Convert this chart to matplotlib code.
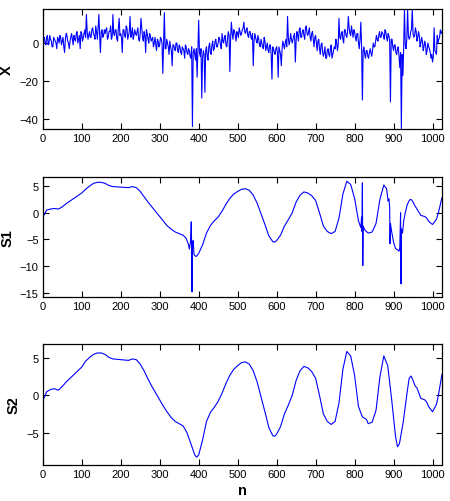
import matplotlib
matplotlib.use("Agg")
from matplotlib import pyplot as plt
import numpy as np

plt.rcParams['font.family'] = ['Liberation Sans', 'DejaVu Sans']

# X: noisy input, samples at n = 0, 4, ..., 1024
x_values = [
    -11, 3, -1, 4, 0, 2, -2, 3, 1, -3,
    2, 4, -1, 3, -5, 5, 1, -3, 3, 2,
    4, 1, 6, 2, -3, 5, 3, 7, 15, 2,
    6, 3, 8, 4, 9, 2, 15, -5, 7, 4,
    5, 8, 3, 6, 2, 15, 4, 7, 1, 13,
    5, -5, 7, 3, 8, 4, 14, 5, 2, 7,
    4, 8, 1, 13, 3, 6, -5, 5, 0, 4,
    2, -2, 3, -4, 1, -1, 2, -16, 16, -3,
    0, -6, -2, -12, -1, -4, 0, -5, -2, -6,
    -3, -8, -2, -6, -4, -8, -44, -3, -9, -18,
    12, -7, -29, -4, -26, -2, -9, 0, -6, 1,
    -3, 2, -2, 3, -1, 5, 0, 4, -2, 6,
    -15, 11, 2, 6, 1, 5, 8, 4, 7, 11,
    5, 8, 3, 6, 2, -12, 5, 1, 4, -1,
    2, -2, 3, -4, 0, -5, -1, -19, -3, -6,
    -2, -18, -4, -12, 1, -3, 2, 14, -1, 5,
    0, 4, -10, 6, 1, 8, 3, 7, 2, 9,
    4, 8, 1, 6, -2, 4, -4, 2, -6, 0,
    -7, -2, -8, -3, -7, -1, -6, -2, 2, -4,
    13, 2, 6, 0, 7, 3, 14, 5, 9, 3,
    6, 1, 5, -3, 11, -30, -2, -8, -4, -8,
    -3, -7, 0, -2, 4, 1, 6, 3, 5, 2,
    6, 1, 4, -31, 2, -4, -1, -6, -2, -13,
    -45, -17, 18, -3, 18, 2, 6, 18, 3, 8,
    1, 6, -2, 3, -4, 1, -6, 0, -3, -8,
    -10, 8, -5, 4, 2, 7, 6,
]
# X: samples in between, at n = 2, 6, ..., 1022
x_mid_values = [
    2, 0, 3, -1, 4, 1, -2, 2, 0, 3,
    0, 3, 1, -2, 2, 4, 0, 1, 5, -1,
    2, 5, 0, 4, 6, 1, 5, 3, 6, 4,
    3, 7, 5, 2, 6, 8, 4, 6, 3, 7,
    7, 2, 6, 9, 3, 5, 7, 2, 8, 4,
    3, 7, 4, 9, 2, 6, 3, 8, 4, 5,
    6, 2, 5, 8, 1, 4, 7, 2, 5, 1,
    3, 0, -1, 2, -2, 3, 0, 1, -3, 2,
    -2, 1, -4, -1, -3, 0, -4, -1, -5, -2,
    -4, -1, -5, -3, -7, -2, -5, -6, -3, -4,
    -5, -3, -8, -6, -4, -7, -2, -5, -1, -4,
    1, -2, 0, 2, -3, 1, 3, -1, 2, 4,
    3, 5, 7, 4, 6, 3, 6, 5, 8, 6,
    7, 4, 6, 3, 5, 1, 3, 0, 2, -2,
    0, -3, 1, -2, -4, -1, -6, -2, -5, -3,
    -5, -2, -6, -3, -1, 0, -2, 3, 1, 2,
    2, 5, 1, 4, 7, 3, 6, 4, 8, 5,
    6, 3, 5, 2, 3, 0, 1, -3, -1, -5,
    -5, -8, -4, -6, -3, -8, -4, -3, 0, -1,
    3, 5, 2, 7, 4, 6, 8, 4, 6, 7,
    3, 5, 0, 2, -2, -4, -6, -4, -7, -5,
    -5, -4, -2, 1, 2, 4, 3, 6, 4, 7,
    3, 5, 1, 2, -2, -1, -5, -3, -7, -5,
    -6, -2, -1, 2, 4, 3, 7, 5, 4, 6,
    3, 4, 0, 1, -2, -1, -4, -2, -5, -6,
    -7, -4, -6, 0, 3, 5,
]

# S1: first output, with spikes
s1_n = [0, 5, 10, 20, 30, 40, 50, 60, 80, 100, 110, 120, 130, 140, 150, 160,
        170, 180, 200, 220, 230, 240, 250, 260, 270, 280, 290, 300, 310, 320,
        330, 340, 350, 360, 368, 374, 376, 379, 381, 382, 383, 384, 385, 386,
        388, 393, 396, 400, 410, 420, 430, 440, 450, 460, 470, 480, 490, 500,
        510, 520, 530, 540, 550, 560, 570, 580, 590, 595, 600, 610, 620, 630,
        640, 650, 660, 670, 680, 690, 700, 710, 720, 730, 740, 750, 760, 770,
        780, 790, 800, 810, 816, 818, 819, 820, 821, 822, 826, 835, 845, 855,
        865, 875, 882, 886, 888, 890, 891, 892, 895, 900, 905, 910, 914, 916,
        918, 919, 920, 923, 926, 930, 935, 941, 945, 950, 955, 960, 970, 975,
        980, 985, 990, 1000, 1010, 1015, 1024]
s1_values = [-0.8, -0.2, 0.5, 0.7, 0.8, 0.7, 1.1, 1.7, 2.7, 3.7, 4.4, 5.0, 5.5,
             5.7, 5.7, 5.5, 5.1, 4.9, 4.8, 4.7, 4.9, 4.7, 4.0, 3.0, 2.0, 1.1,
             0.2, -0.7, -1.6, -2.5, -3.1, -3.6, -3.9, -4.2, -4.8, -6.0, -6.8,
             -5.5, -1.7, -6.5, -14.8, -6.0, -5.3, -5.2, -7.8, -8.2, -8.0, -7.6,
             -6.0, -3.8, -2.4, -1.5, -0.8, 0.3, 1.6, 2.7, 3.5, 4.0, 4.4, 4.5,
             4.2, 3.3, 1.8, -0.2, -2.2, -4.3, -5.4, -5.5, -5.2, -4.2, -2.5,
             -1.3, 0.0, 2.0, 3.3, 3.9, 3.7, 3.2, 2.3, 0.0, -2.5, -3.5, -3.9,
             -3.5, -1.0, 3.5, 5.9, 5.3, 2.7, -1.5, -2.8, -0.8, -3.5, 5.6, -9.9,
             -2.5, -3.2, -3.8, -3.6, -2.0, 2.5, 5.2, 4.5, 2.2, 2.6, 1.0, -5.8,
             -2.0, -3.5, -5.5, -6.7, -6.9, -7.2, -6.5, 0.0, -13.3, -3.0, -3.8,
             -1.5, 0.0, 1.5, 2.4, 2.5, 2.0, 1.3, 0.7, -0.5, -0.6, -0.7, -1.0,
             -1.6, -2.2, -1.2, 0.0, 2.8]

# S2: second output, smooth
s2_n = [0, 5, 10, 20, 30, 40, 50, 60, 80, 100, 110, 120, 130, 140, 150, 160,
        170, 180, 200, 220, 230, 240, 250, 260, 270, 280, 290, 300, 310, 320,
        330, 340, 350, 360, 370, 380, 390, 395, 400, 410, 420, 430, 440, 450,
        460, 470, 480, 490, 500, 510, 520, 530, 540, 550, 560, 570, 580, 590,
        595, 600, 610, 620, 630, 640, 650, 660, 670, 680, 690, 700, 710, 720,
        730, 740, 750, 760, 770, 780, 790, 800, 810, 820, 830, 835, 845, 855,
        865, 875, 885, 895, 905, 910, 915, 925, 935, 940, 945, 950, 955, 960,
        970, 980, 985, 990, 1000, 1010, 1015, 1024]
s2_values = [-0.6, -0.2, 0.5, 0.8, 0.9, 0.7, 1.2, 1.8, 2.8, 3.8, 4.6, 5.1, 5.5,
             5.7, 5.7, 5.5, 5.1, 4.9, 4.8, 4.7, 4.9, 4.8, 4.2, 3.3, 2.2, 1.2,
             0.3, -0.6, -1.5, -2.3, -3.0, -3.5, -3.8, -4.1, -5.0, -6.5, -8.0,
             -8.3, -8.0, -6.0, -3.5, -2.3, -1.6, -0.8, 0.3, 1.6, 2.7, 3.5, 4.0,
             4.4, 4.5, 4.2, 3.3, 1.8, -0.2, -2.2, -4.3, -5.4, -5.5, -5.2,
             -4.2, -2.5, -1.3, 0.0, 2.0, 3.3, 3.9, 3.7, 3.2, 2.3, 0.0, -2.5,
             -3.5, -3.9, -3.5, -1.0, 3.5, 5.9, 5.3, 2.7, -1.5, -2.9, -3.2,
             -3.8, -3.6, -2.0, 2.5, 5.3, 4.0, -0.5, -5.5, -6.9, -6.5, -3.5,
             0.5, 2.3, 2.6, 2.0, 1.3, 1.0, -0.4, -0.6, -0.9, -1.5, -2.2,
             -1.2, 0.0, 2.8]

# merge the two X sample sets in n order
x_n = np.concatenate([np.arange(0, 1025, 4), np.arange(2, 1023, 4)])
x_all = np.concatenate([x_values, x_mid_values])
order = np.argsort(x_n)
x_n, x_all = x_n[order], x_all[order]

fig = plt.figure(figsize=(4.5, 5.02), dpi=100)
ax1 = fig.add_axes([0.095, 0.741, 0.887, 0.239])
ax2 = fig.add_axes([0.095, 0.406, 0.887, 0.240])
ax3 = fig.add_axes([0.095, 0.0717, 0.887, 0.241])

ax1.plot(x_n, x_all, color='#0000ff', linewidth=0.8)
ax2.plot(s1_n, s1_values, color='#0000ff', linewidth=0.8)
ax3.plot(s2_n, s2_values, color='#0000ff', linewidth=0.8)

ax1.set_ylim(-45.3, 17.9)
ax1.set_yticks([-40, -20, 0])
ax2.set_ylim(-15.8, 6.75)
ax2.set_yticks([-15, -10, -5, 0, 5])
ax3.set_ylim(-9.35, 6.9)
ax3.set_yticks([-5, 0, 5])

for ax, lab in zip([ax1, ax2, ax3], ["X", "S1", "S2"]):
    ax.set_xlim(0, 1024)
    ax.set_xticks(np.arange(0, 1001, 100))
    ax.tick_params(direction='in', top=True, right=True, length=4,
                   width=0.8, labelsize=8, pad=3)
    ax.set_ylabel(lab, fontsize=10.5, fontweight='bold', labelpad=4)
    for s in ax.spines.values():
        s.set_linewidth(0.9)

ax3.set_xlabel("n", fontsize=10.5, fontweight='bold', labelpad=3)

plt.savefig("out.png", dpi=100)
